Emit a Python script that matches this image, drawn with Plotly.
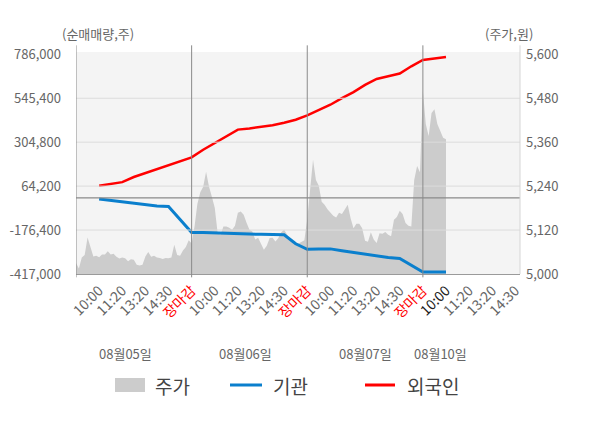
import plotly.graph_objects as go

# ---------------- data ----------------
day_labels = ["08월05일", "08월06일", "08월07일", "08월10일"]
slot_labels = ["10:00", "11:20", "13:20", "14:30", "장마감"]
series_names = ["주가", "기관", "외국인"]

# 주가 (price, won) sampled 40 per trading day, day 4 partial
price_d1 = [5030, 5015, 5045, 5052, 5100, 5070, 5048, 5050, 5046, 5053,
            5053, 5062, 5053, 5055, 5047, 5042, 5045, 5043, 5035, 5040,
            5039, 5025, 5023, 5025, 5048, 5060, 5047, 5050, 5045, 5044,
            5041, 5044, 5043, 5045, 5080, 5052, 5050, 5064, 5074, 5092]
price_d2 = [5083, 5130, 5192, 5223, 5238, 5279, 5239, 5211, 5181, 5112,
            5107, 5130, 5130, 5126, 5121, 5132, 5167, 5171, 5162, 5140,
            5121, 5116, 5094, 5099, 5080, 5066, 5077, 5098, 5099, 5089,
            5098, 5114, 5121, 5107, 5095, 5089, 5083, 5083, 5087, 5092]
price_d3 = [5150, 5235, 5312, 5257, 5241, 5197, 5189, 5177, 5167, 5159,
            5154, 5167, 5164, 5178, 5189, 5152, 5125, 5137, 5137, 5125,
            5091, 5088, 5114, 5094, 5085, 5111, 5110, 5115, 5107, 5103,
            5148, 5156, 5173, 5164, 5139, 5132, 5130, 5257, 5295, 5278]
price_d4 = [5500, 5410, 5377, 5440, 5450, 5410, 5388, 5372, 5368]

# 기관 / 외국인 cumulative net volume, every half slot from day1 10:00
inst = [-6900, -14600, -21700, -28800, -38100, -45200, -47400, -121200,
        -189500, -190100, -191200, -193400, -196600, -198300, -199900,
        -201000, -202100, -251300, -282000, -280500, -279500, -289600,
        -298900, -308700, -319700, -326800, -331700, -368900, -406100,
        -406100, -406100]
foreign = [65800, 75100, 86100, 113900, 135300, 156600, 177900, 198200,
           221700, 263200, 300900, 337600, 373700, 379700, 388400, 397700,
           411400, 427800, 451300, 480300, 509800, 545900, 578700, 618100,
           650900, 665700, 681000, 720300, 754800, 763000, 771200]

left_ticks = [-417000, -176400, 64200, 304800, 545400, 786000]
right_ticks = [5000, 5120, 5240, 5360, 5480, 5600]

# ---------------- geometry helpers ----------------
W, H = 600, 428
ML, MR, MT, MB = 76, 80, 52, 154
PW, PH = W - ML - MR, H - MT - MB


def px(xp):
    return (xp - ML) / PW


def py(yp):
    return (H - MB - yp) / PH


SLOTS = 5            # slots per day on the x axis
PER_DAY = 40         # price samples per day
price = price_d1 + price_d2 + price_d3 + price_d4
price_x = [i * SLOTS / PER_DAY for i in range(len(price))]
line_x = [1 + 0.5 * k for k in range(len(inst))]
day_bounds = [0, 5, 10, 15]

tickvals, ticktext = [], []
for d in range(4):
    n = 5 if d < 3 else 4
    for j in range(n):
        tickvals.append(d * SLOTS + j + 1)
        lab = slot_labels[j]
        if lab == "장마감":
            ticktext.append('<span style="color:#ff0000">' + lab + '</span>')
        elif d == 3 and j == 0:
            ticktext.append('<span style="color:#222222">' + lab + '</span>')
        else:
            ticktext.append(lab)

FONT = "Noto Sans CJK KR"
GRAY = "#666666"
C_PRICE, C_INST, C_FOR = "#cccccc", "#0a7fcd", "#ff0000"

fig = go.Figure()
fig.add_trace(go.Scatter(
    x=price_x, y=price, name=series_names[0], mode="lines", fill="tozeroy",
    line=dict(width=0, color=C_PRICE), fillcolor=C_PRICE,
    yaxis="y", hoverinfo="skip", showlegend=False))
fig.add_trace(go.Scatter(
    x=line_x, y=inst, name=series_names[1], mode="lines",
    line=dict(width=3, color=C_INST), yaxis="y2", showlegend=False))
fig.add_trace(go.Scatter(
    x=line_x, y=foreign, name=series_names[2], mode="lines",
    line=dict(width=2.5, color=C_FOR), yaxis="y2", showlegend=False))

shapes = []
for v in left_ticks[1:-1]:
    shapes.append(dict(type="line", xref="paper", x0=0, x1=1, yref="y2",
                       y0=v, y1=v, line=dict(color="#dcdcdc", width=1),
                       layer="above"))
shapes.append(dict(type="line", xref="paper", x0=0, x1=1, yref="y2",
                   y0=0, y1=0, line=dict(color="#8a8a8a", width=1.2),
                   layer="above"))
for b in day_bounds:
    shapes.append(dict(type="line", xref="x", x0=b, x1=b, yref="paper",
                       y0=-0.015, y1=1.03, line=dict(color="#8a8a8a", width=1),
                       layer="above"))
shapes.append(dict(type="line", xref="paper", x0=1, x1=1, yref="paper",
                   y0=0, y1=1.03, line=dict(color="#d6d6d6", width=1),
                   layer="above"))

# legend (drawn manually to match swatch sizes)
LEG_Y = 385
shapes.append(dict(type="rect", xref="paper", yref="paper",
                   x0=px(115), x1=px(145), y0=py(392), y1=py(378),
                   fillcolor=C_PRICE, line=dict(width=0)))
shapes.append(dict(type="line", xref="paper", yref="paper",
                   x0=px(230), x1=px(262), y0=py(LEG_Y), y1=py(LEG_Y),
                   line=dict(color=C_INST, width=3)))
shapes.append(dict(type="line", xref="paper", yref="paper",
                   x0=px(365), x1=px(395), y0=py(LEG_Y), y1=py(LEG_Y),
                   line=dict(color=C_FOR, width=3)))

annotations = []
for tx, name in zip([153, 271, 405], series_names):
    annotations.append(dict(x=px(tx), y=py(LEG_Y), xref="paper", yref="paper",
                            text=name, showarrow=False, xanchor="left",
                            yanchor="middle",
                            font=dict(family=FONT, size=19, color="#444444")))

date_x = [2.12, 7.31, 12.5, 15.78]
for dx, dl in zip(date_x, day_labels):
    annotations.append(dict(x=dx, y=py(353), xref="x", yref="paper",
                            text=dl, showarrow=False, yanchor="middle",
                            font=dict(family=FONT, size=13, color=GRAY)))
annotations.append(dict(x=px(60), y=py(34), xref="paper", yref="paper",
                        text="(순매매량,주)", showarrow=False, yanchor="middle",
                        font=dict(family=FONT, size=13, color=GRAY)))
annotations.append(dict(x=px(535), y=py(34), xref="paper", yref="paper",
                        text="(주가,원)", showarrow=False, yanchor="middle",
                        font=dict(family=FONT, size=13, color=GRAY)))

fig.update_layout(
    width=W, height=H,
    margin=dict(l=ML, r=MR, t=MT, b=MB, autoexpand=False),
    paper_bgcolor="#ffffff", plot_bgcolor="#f4f4f4",
    font=dict(family=FONT, size=13, color=GRAY),
    showlegend=False,
    xaxis=dict(range=[0, 19.2], tickvals=tickvals, ticktext=ticktext,
               tickangle=-45, ticks="", showgrid=False, zeroline=False,
               showline=True, linecolor="#9a9a9a", linewidth=1,
               automargin=False, ticklabelstandoff=2,
               tickfont=dict(family=FONT, size=14, color=GRAY)),
    yaxis=dict(side="right", range=[5000, 5606.3], tickvals=right_ticks,
               ticktext=[f"{v:,}" for v in right_ticks], showgrid=False,
               zeroline=False, showline=False, ticks="", automargin=False,
               ticklabelstandoff=5,
               tickfont=dict(family=FONT, size=13, color=GRAY)),
    yaxis2=dict(side="left", overlaying="y", range=[-417000, 798600],
                tickvals=left_ticks, ticktext=[f"{v:,}" for v in left_ticks],
                showgrid=False, zeroline=False, showline=False, ticks="",
                automargin=False, ticklabelstandoff=14,
                tickfont=dict(family=FONT, size=13, color=GRAY)),
    shapes=shapes, annotations=annotations,
)

fig.write_html(
    "out.html",
    config={"displayModeBar": False},
    post_script="document.body.style.margin='0';document.body.style.padding='0';",
)
